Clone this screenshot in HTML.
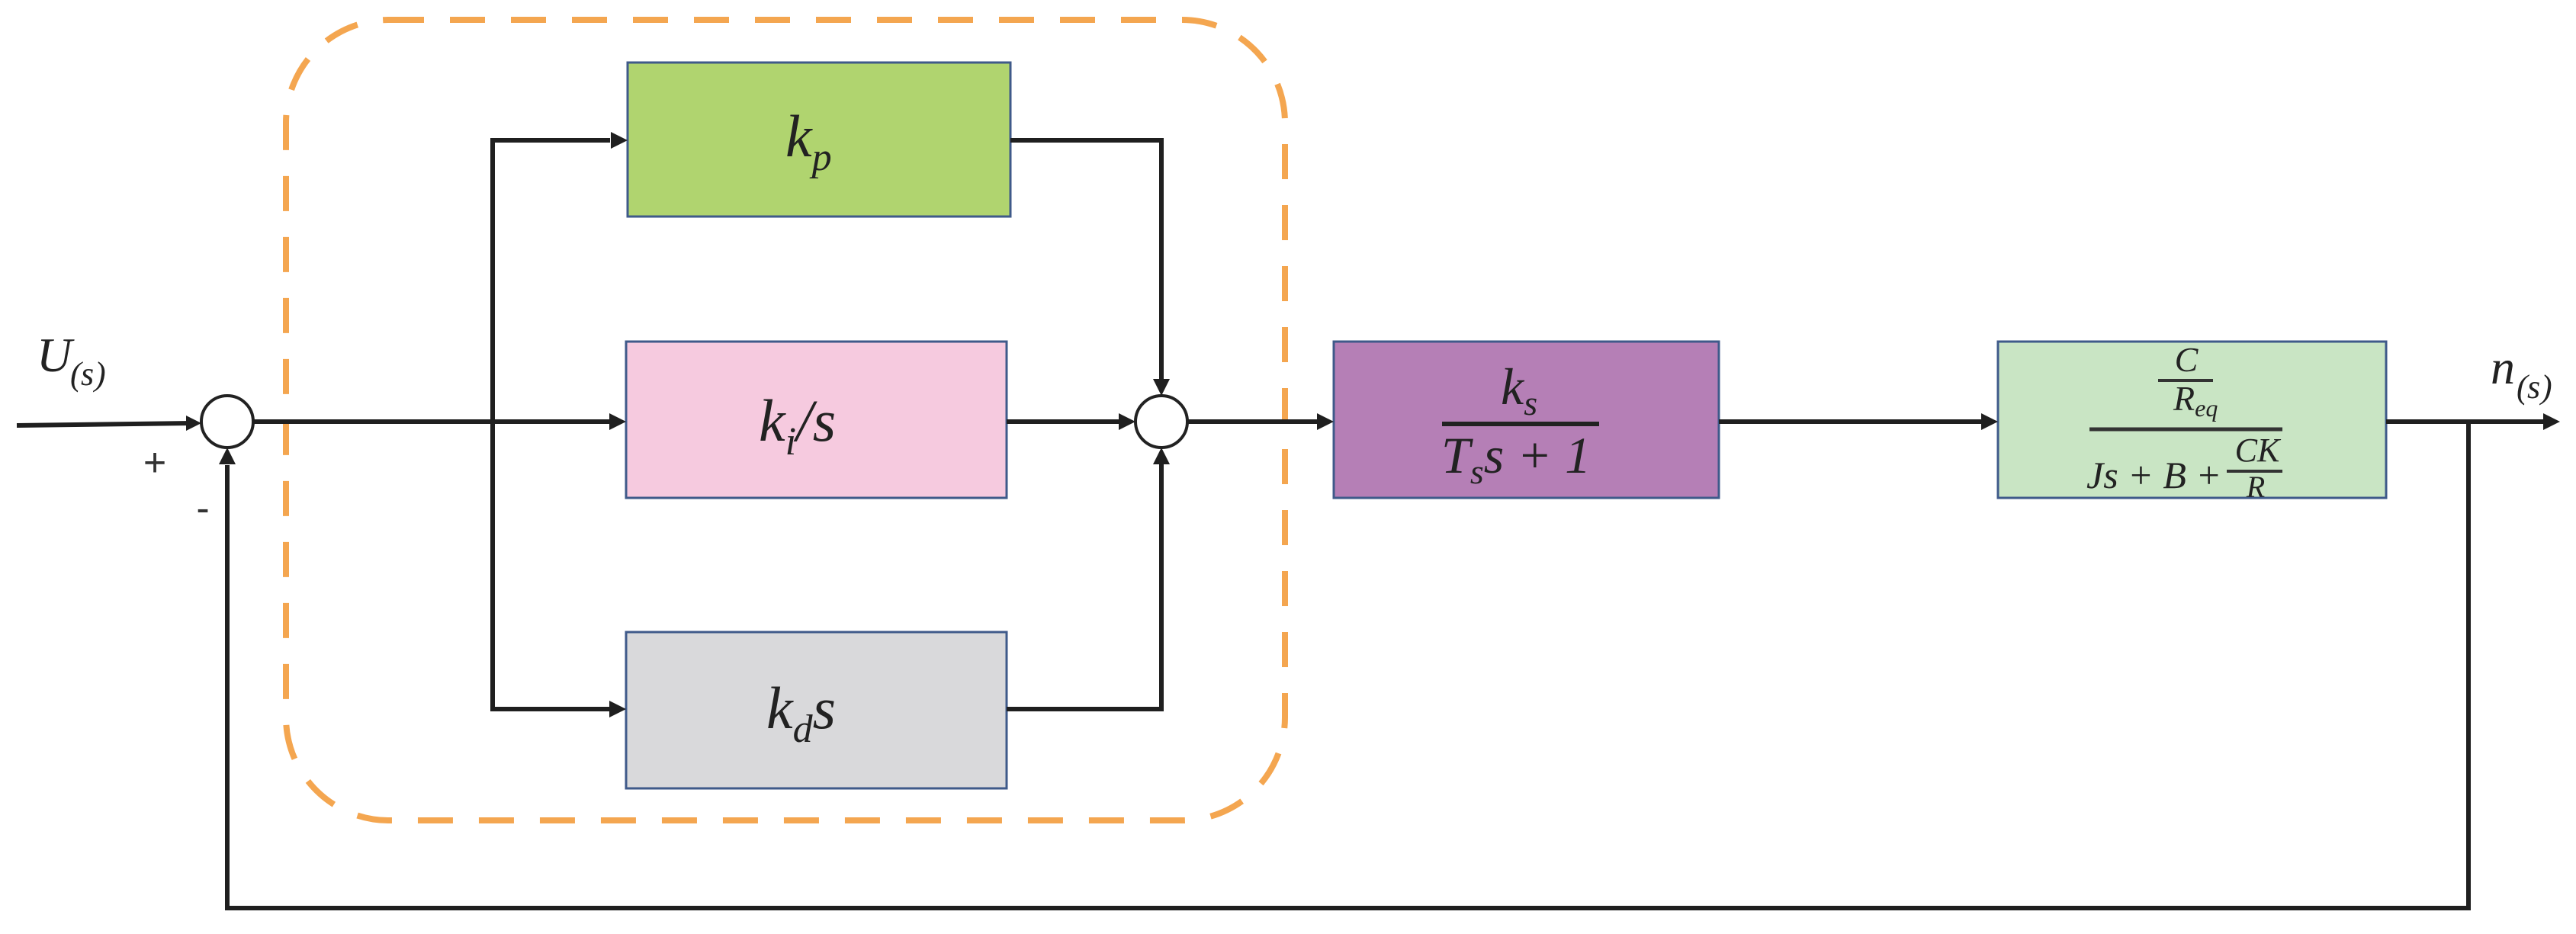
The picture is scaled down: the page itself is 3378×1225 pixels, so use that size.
<!DOCTYPE html>
<html><head><meta charset="utf-8"><style>html,body{margin:0;padding:0;background:#fff}svg{display:block}</style></head>
<body>
<svg width="3378" height="1225" viewBox="0 0 3378 1225" xmlns="http://www.w3.org/2000/svg">
<defs>
<marker id="a" markerWidth="10" markerHeight="10" refX="9" refY="5" orient="auto" markerUnits="userSpaceOnUse" viewBox="0 0 10 10">
</marker>
</defs>
<style>
.t{font-family:"Liberation Serif",serif;font-style:italic;fill:#222}
.l{stroke:#1f1f1f;stroke-width:6;fill:none}
</style>
<!-- dashed box -->
<rect x="375" y="26" width="1310" height="1050" rx="135" ry="135" fill="none" stroke="#f4a650" stroke-width="8" stroke-dasharray="46,34"/>
<!-- blocks -->
<rect x="823" y="82" width="502" height="202" fill="#b0d46f" stroke="#3f5a8a" stroke-width="3"/>
<rect x="821" y="448" width="499" height="205" fill="#f6cadf" stroke="#3f5a8a" stroke-width="3"/>
<rect x="821" y="829" width="499" height="205" fill="#d9d9db" stroke="#3f5a8a" stroke-width="3"/>
<rect x="1749" y="448" width="505" height="205" fill="#b57fb6" stroke="#3f5a8a" stroke-width="3"/>
<rect x="2620" y="448" width="509" height="205" fill="#c9e5c4" stroke="#3f5a8a" stroke-width="3"/>
<!-- summing junctions -->
<circle cx="298" cy="553" r="34" fill="#fff" stroke="#222" stroke-width="4"/>
<circle cx="1523" cy="553" r="34" fill="#fff" stroke="#222" stroke-width="4"/>
<!-- lines -->
<path class="l" d="M22 558 L252 555"/>
<path class="l" d="M332 553 L800 553"/>
<path class="l" d="M646 553 L646 184 L800 184"/>
<path class="l" d="M646 553 L646 930 L800 930"/>
<path class="l" d="M1325 184 L1523 184 L1523 505"/>
<path class="l" d="M1320 930 L1523 930 L1523 601"/>
<path class="l" d="M1320 553 L1475 553"/>
<path class="l" d="M1557 553 L1728 553"/>
<path class="l" d="M2254 553 L2598 553"/>
<path class="l" d="M3129 553 L3335 553"/>
<path class="l" d="M3237 553 L3237 1191 L298 1191 L298 610"/>
<!-- arrowheads -->
<g fill="#1f1f1f">
<polygon points="264,555 244,545 244,565"/>
<polygon points="821,553 799,542 799,564"/>
<polygon points="823,184 801,173 801,195"/>
<polygon points="821,930 799,919 799,941"/>
<polygon points="1489,553 1467,542 1467,564"/>
<polygon points="1749,553 1727,542 1727,564"/>
<polygon points="2620,553 2598,542 2598,564"/>
<polygon points="3357,553 3335,542 3335,564"/>
<polygon points="1523,519 1512,497 1534,497"/>
<polygon points="1523,587 1512,609 1534,609"/>
<polygon points="298,587 287,609 309,609"/>
</g>
<!-- labels -->
<text class="t" x="48" y="487" font-size="64">U</text>
<text class="t" x="92" y="505" font-size="44" font-style="normal">(</text><text class="t" x="106" y="505" font-size="44">s</text><text class="t" x="124" y="505" font-size="44" font-style="normal">)</text>
<text x="203" y="624" font-family="Liberation Sans, sans-serif" font-size="52" text-anchor="middle" fill="#333">+</text>
<text x="266" y="684" font-family="Liberation Sans, sans-serif" font-size="52" text-anchor="middle" fill="#333">-</text>
<text class="t" x="3266" y="503" font-size="64">n</text>
<text class="t" x="3300" y="522" font-size="44" font-style="normal">(</text><text class="t" x="3314" y="522" font-size="44">s</text><text class="t" x="3332" y="522" font-size="44" font-style="normal">)</text>

<text class="t" x="1030" y="205" font-size="78">k<tspan font-size="52" dy="18">p</tspan></text>
<text class="t" x="995" y="578" font-size="78">k<tspan font-size="52" dy="18">i</tspan><tspan dy="-18">/s</tspan></text>
<text class="t" x="1005" y="955" font-size="78">k<tspan font-size="52" dy="18">d</tspan><tspan dy="-18">s</tspan></text>

<text class="t" x="1968" y="530" font-size="68">k<tspan font-size="46" dy="14">s</tspan></text>
<line x1="1891" y1="556" x2="2097" y2="556" stroke="#222" stroke-width="6"/>
<text class="t" x="1890" y="620" font-size="68">T<tspan font-size="46" dy="14">s</tspan><tspan dy="-14">s + 1</tspan></text>

<text class="t" x="2867" y="487" font-size="46" text-anchor="middle">C</text>
<line x1="2830" y1="499" x2="2902" y2="499" stroke="#333" stroke-width="4"/>
<text class="t" x="2850" y="538" font-size="46">R<tspan font-size="32" dy="8">eq</tspan></text>
<line x1="2740" y1="563" x2="2993" y2="563" stroke="#333" stroke-width="5"/>
<text class="t" x="2736" y="640" font-size="50">Js + B +</text>
<text class="t" x="2960" y="605" font-size="44" text-anchor="middle">CK</text>
<line x1="2920" y1="618" x2="2993" y2="618" stroke="#333" stroke-width="4"/>
<text class="t" x="2958" y="652" font-size="40" text-anchor="middle">R</text>
</svg>
</body></html>
